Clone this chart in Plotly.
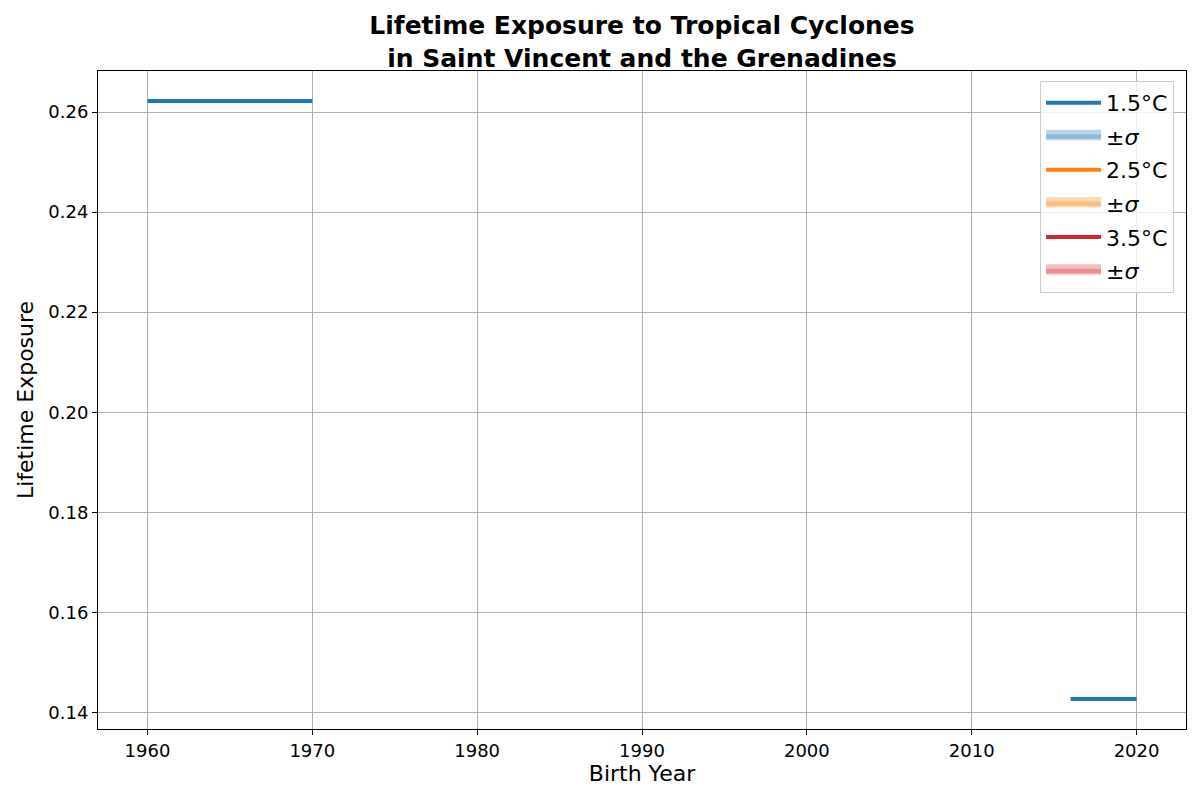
import plotly.graph_objects as go

years = list(range(1960, 2021))
seg1_years = list(range(1960, 1971))
seg2_years = list(range(2016, 2021))
val_15_early = 0.2622
val_15_late = 0.1427

y15 = [val_15_early if y in seg1_years else (val_15_late if y in seg2_years else None) for y in years]
y25 = [None for y in years]
y35 = [None for y in years]

colors = {"1.5": "#1f77b4", "2.5": "#ff7f0e", "3.5": "#d62728"}
fills = {"1.5": "rgba(31,119,180,0.3)", "2.5": "rgba(255,127,14,0.3)", "3.5": "rgba(214,39,40,0.3)"}

fig = go.Figure()
for key, yv in [("1.5", y15), ("2.5", y25), ("3.5", y35)]:
    fig.add_trace(go.Scatter(x=years, y=yv, mode="lines", name=f"{key}°C",
                             legendgroup=f"g{key}a",
                             line=dict(color=colors[key], width=4), connectgaps=False))
    fig.add_trace(go.Scatter(x=[None], y=[None], mode="lines", name="±<i>σ</i>",
                             legendgroup=f"g{key}b",
                             fill="toself", fillcolor=fills[key],
                             line=dict(color=fills[key], width=9)))

font_family = "DejaVu Sans"
fig.update_layout(
    width=1200, height=800,
    paper_bgcolor="white", plot_bgcolor="white",
    margin=dict(l=90, r=22, t=63, b=79, autoexpand=False),
    font=dict(family=font_family, color="black"),
    title=dict(text="<b>Lifetime Exposure to Tropical Cyclones<br>in Saint Vincent and the Grenadines</b>",
               x=0.5, xanchor="center", xref="paper", y=1 - 26 / 800, yanchor="middle", yref="container",
               font=dict(size=25, family=font_family)),
    legend=dict(x=0.989, y=0.985, xanchor="right", yanchor="top",
                bgcolor="rgba(255,255,255,0.8)", bordercolor="#cccccc", borderwidth=1,
                font=dict(size=22, family=font_family), tracegroupgap=2, itemwidth=55),
    showlegend=True,
)
fig.update_xaxes(range=[1957, 2023], tickvals=[1960, 1970, 1980, 1990, 2000, 2010, 2020],
                 showgrid=True, gridcolor="#b0b0b0", gridwidth=1,
                 showline=True, linecolor="black", linewidth=1, mirror=True,
                 ticks="outside", ticklen=5, tickcolor="black", automargin=False,
                 tickfont=dict(size=18), zeroline=False,
                 title=dict(text="Birth Year", font=dict(size=22), standoff=4))
fig.update_yaxes(range=[0.1367, 0.2682], tickvals=[0.14, 0.16, 0.18, 0.20, 0.22, 0.24, 0.26],
                 tickformat=".2f",
                 showgrid=True, gridcolor="#b0b0b0", gridwidth=1,
                 showline=True, linecolor="black", linewidth=1, mirror=True,
                 ticks="outside", ticklen=5, tickcolor="black", automargin=False,
                 tickfont=dict(size=18), zeroline=False,
                 title=dict(text="Lifetime Exposure", font=dict(size=22), standoff=8))

fig.write_html("out.html")
